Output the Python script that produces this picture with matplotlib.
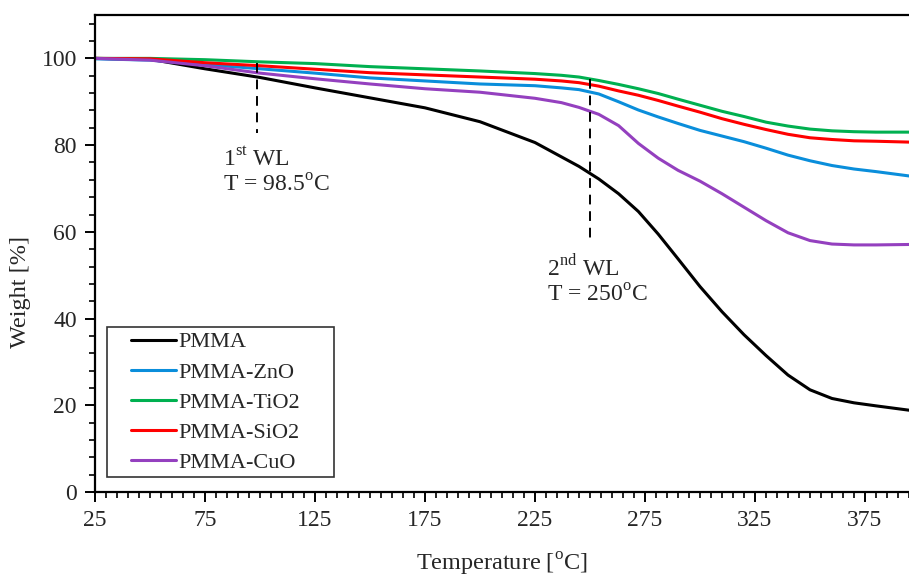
import matplotlib
matplotlib.use("Agg")
import matplotlib.pyplot as plt
from matplotlib.ticker import MultipleLocator
from matplotlib.legend_handler import HandlerLine2D

plt.rcParams['font.family'] = ['Liberation Serif', 'DejaVu Serif']
plt.rcParams['mathtext.fontset'] = 'custom'
plt.rcParams['mathtext.rm'] = 'Liberation Serif'

# TGA curves, weight [%] vs temperature [C]
temp = [25, 50, 75, 100, 125, 150, 175, 200, 225, 237, 245, 254, 263,
        272, 281, 290, 300, 310, 320, 330, 340, 350, 360, 370, 380, 395]
pmma = [100, 99.8, 97.6, 95.6, 93.2, 90.9, 88.6, 85.4, 80.6, 77.3, 75.1,
        72.2, 68.8, 64.7, 59.5, 53.8, 47.4, 41.6, 36.3, 31.5, 27.0, 23.6,
        21.6, 20.6, 19.9, 18.9]
pmma_zno = [99.9, 99.6, 98.6, 97.6, 96.6, 95.5, 94.8, 94.1, 93.7, 93.2, 92.8,
            91.8, 90.0, 88.1, 86.5, 85.0, 83.4, 82.1, 80.8, 79.3, 77.7, 76.4,
            75.3, 74.5, 73.9, 72.9]
pmma_tio2 = [100, 100, 99.7, 99.2, 98.8, 98.1, 97.6, 97.1, 96.5, 96.1, 95.7,
             94.9, 94.0, 93.0, 91.9, 90.6, 89.2, 87.8, 86.6, 85.3, 84.4, 83.7,
             83.3, 83.1, 83.0, 83.0]
pmma_sio2 = [100, 99.9, 99.0, 98.3, 97.5, 96.7, 96.2, 95.7, 95.2, 94.8, 94.4,
             93.6, 92.5, 91.5, 90.3, 89.0, 87.6, 86.1, 84.8, 83.6, 82.5, 81.7,
             81.3, 81.0, 80.9, 80.7]
pmma_cuo = [100, 99.6, 98.3, 96.6, 95.3, 94.1, 93.0, 92.2, 90.8, 89.8, 88.7,
            87.1, 84.5, 80.4, 77.0, 74.2, 71.7, 68.8, 65.7, 62.6, 59.8, 58.0,
            57.2, 57.0, 57.0, 57.1]

series = [
    ("PMMA", pmma, "black"),
    ("PMMA-ZnO", pmma_zno, "#0a8edb"),
    ("PMMA-TiO2", pmma_tio2, "#00b050"),
    ("PMMA-SiO2", pmma_sio2, "#ff0000"),
    ("PMMA-CuO", pmma_cuo, "#9440bf"),
]

# weight-loss markers: temperature, top and bottom of the dashed line
wl_temp = [98.5, 250]
wl_top = [99.0, 95.2]
wl_bottom = [82.7, 57.7]

deg = r'$^{\mathrm{o}}$C'


class IndentedLine(HandlerLine2D):
    # legend line drawn only over the right part of the handle box
    def get_xdata(self, legend, xdescent, ydescent, width, height, fontsize):
        x0 = -xdescent + 0.3 * width
        x1 = -xdescent + width
        return [x0, x1], [x0, x1]


fig = plt.figure(figsize=(9.09, 5.77), dpi=100)
ax = fig.add_axes([0.1045, 0.147, 0.8955, 0.827])

for name, y, c in series:
    ax.plot(temp, y, color=c, lw=2.2, label=name,
            solid_capstyle='round', solid_joinstyle='round')

for t, top, bot in zip(wl_temp, wl_top, wl_bottom):
    ax.plot([t, t], [top, bot], color='black', lw=1.4, ls=(0, (5, 3.5)))

txt = '#262626'
fs = 17
ax.text(83, 76.7, r'1$^{\mathrm{st}}$ WL', fontsize=fs, color=txt, va='center')
ax.text(83, 70.7, 'T = 98.5' + deg, fontsize=fs, color=txt, va='center')
ax.text(230.5, 51.7, r'2$^{\mathrm{nd}}$ WL', fontsize=fs, color=txt, va='center')
ax.text(230.5, 45.3, 'T = 250' + deg, fontsize=fs, color=txt, va='center')

ax.set_xlim(25, 395)
ax.set_ylim(0, 110)
ax.set_xticks(range(25, 400, 50))
ax.xaxis.set_minor_locator(MultipleLocator(5))
ax.yaxis.set_major_locator(MultipleLocator(20))
ax.yaxis.set_minor_locator(MultipleLocator(4))
ax.tick_params(which='major', direction='out', length=7, width=1.4,
               labelsize=fs, labelcolor=txt, pad=6)
ax.tick_params(which='minor', direction='out', length=4, width=1.2)

for s in ['left', 'bottom', 'top']:
    ax.spines[s].set_linewidth(1.6)
ax.spines['right'].set_visible(False)

ax.set_xlabel('Temperature [' + deg + ']', fontsize=17.5, color=txt, labelpad=14)
ax.set_ylabel('Weight [%]', fontsize=17.5, color=txt)
ax.yaxis.set_label_coords(-0.078, 0.42)

leg = ax.legend(loc='lower left', bbox_to_anchor=(0.0147, 0.031, 0.279, 0.3),
                mode='expand', borderaxespad=0, fontsize=16, frameon=True,
                fancybox=False, handlelength=2.9, handletextpad=0.1,
                labelspacing=0.43, borderpad=0.2,
                handler_map={plt.Line2D: IndentedLine()})
leg.get_frame().set_edgecolor('black')
leg.get_frame().set_linewidth(1.2)
for t in leg.get_texts():
    t.set_color(txt)

fig.savefig('out.png', dpi=100)
